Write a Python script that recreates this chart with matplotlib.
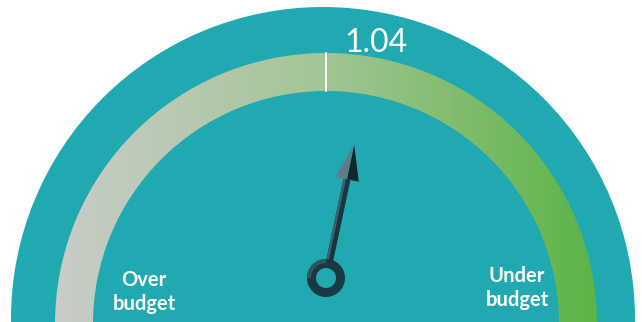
import numpy as np
import matplotlib
matplotlib.use('Agg')
import matplotlib.pyplot as plt
from matplotlib.patches import Wedge, Polygon, Circle
from matplotlib.colors import LinearSegmentedColormap

# gauge data
value = 1.04
gauge_min, gauge_max = 0.7, 1.3
value_label = '1.04'
side_labels = ['Over\nbudget', 'Under\nbudget']
band_colors = ['#C9CCC9', '#A3C594', '#5BB446']

teal = '#20A9B0'
cx, cy = 326, 324

fig = plt.figure(figsize=(6.42, 3.22), dpi=100)
ax = fig.add_axes([0, 0, 1, 1])

# background dial
ax.add_patch(Circle((323, 319), 312, color=teal, lw=0))

# coloured band with horizontal gradient
r_out, r_in = 271, 233
band = Wedge((cx, cy), r_out, 0, 360, width=r_out - r_in, facecolor='none', lw=0)
ax.add_patch(band)
cmap = LinearSegmentedColormap.from_list('band', band_colors)
im = ax.imshow(np.linspace(0, 1, 256)[None, :], cmap=cmap, aspect='auto',
               extent=[cx - r_out, cx + r_out, cy + 5, cy - r_out], zorder=2)
im.set_clip_path(band)

# centre tick
ax.plot([cx, cx], [cy - r_out, cy - r_in], color='white', lw=1.3, zorder=3)

# needle
px, py = 326, 278
t = np.deg2rad((value - (gauge_min + gauge_max) / 2) / ((gauge_max - gauge_min) / 2) * 90)
u = np.array([np.sin(t), -np.cos(t)])
n = np.array([np.cos(t), np.sin(t)])
p = np.array([px, py])
shaft_w, head_w = 3.5, 12
b0 = p + u * 17
b1 = p + u * 101
tip = p + u * 136
shaft = [b0 - n * shaft_w, b1 - n * shaft_w, b1 + n * shaft_w, b0 + n * shaft_w]
ax.add_patch(Polygon(shaft, closed=True, color='#183640', lw=0, zorder=4))
ax.add_patch(Polygon([b0 - n * shaft_w, b1 - n * shaft_w, b1 - n * 1, b0 - n * 1],
                     closed=True, color='#3B626D', lw=0, zorder=4))
ax.add_patch(Polygon([tip, b1 - n * head_w, b1], closed=True, color='#5E7D87', lw=0, zorder=5))
ax.add_patch(Polygon([tip, b1, b1 + n * head_w], closed=True, color='#10272F', lw=0, zorder=5))

# pivot ring
ax.add_patch(Wedge((px, py), 19, 0, 360, width=9, color='#1A3943', lw=0, zorder=5))
ax.add_patch(Wedge((px, py), 19, 180, 270, width=4, color='#2F5560', lw=0, zorder=5))

# texts
ax.text(344, 43, value_label, color='white', fontsize=23, family='Lato',
        weight='normal', ha='left', va='center', zorder=6)
ax.text(144, 292, side_labels[0], color='white', fontsize=14.5, family='Lato',
        weight='bold', ha='center', va='center', linespacing=1.2, zorder=6)
ax.text(517, 288, side_labels[1], color='white', fontsize=14.5, family='Lato',
        weight='bold', ha='center', va='center', linespacing=1.2, zorder=6)

ax.set_xlim(0, 642)
ax.set_ylim(322, 0)
ax.axis('off')

fig.savefig('out.png', dpi=100)
